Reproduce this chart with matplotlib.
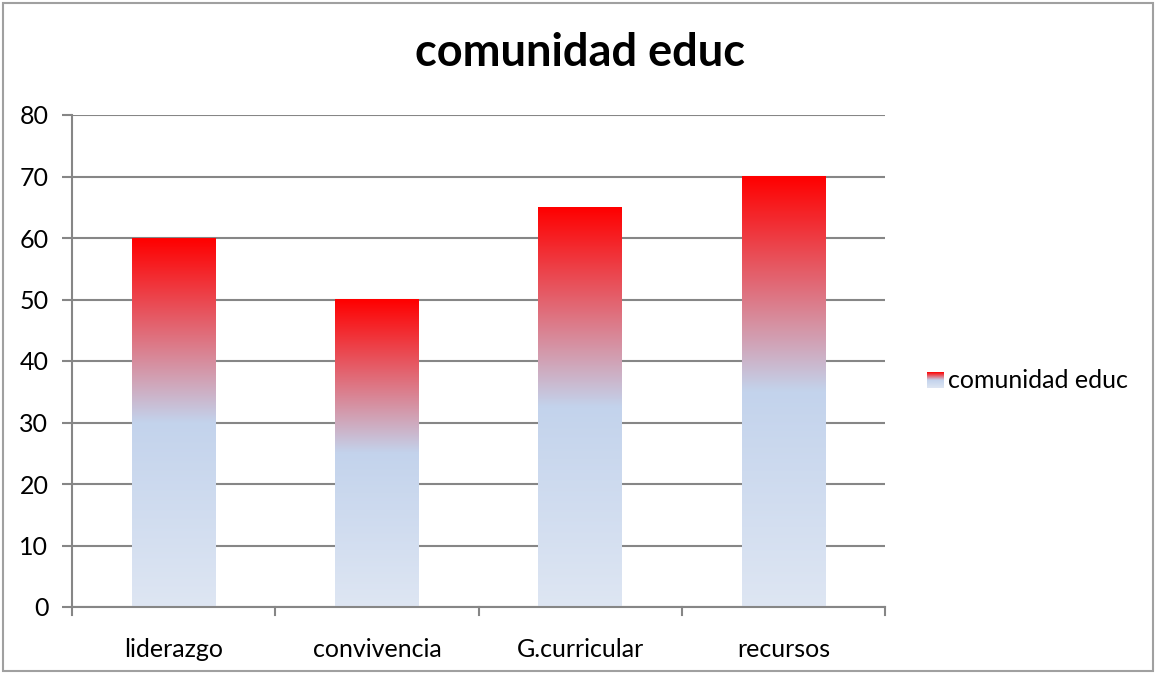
import numpy as np
import matplotlib
matplotlib.use("Agg")
import matplotlib.pyplot as plt
from matplotlib.colors import LinearSegmentedColormap
from matplotlib.patches import Rectangle

categories = ["liderazgo", "convivencia", "G.curricular", "recursos"]
values = [60, 50, 65, 70]
series_name = "comunidad educ"
title = "comunidad educ"
yticks = [0, 10, 20, 30, 40, 50, 60, 70, 80]

plt.rcParams['font.family'] = ['Lato', 'DejaVu Sans']

cmap = LinearSegmentedColormap.from_list(
    "grad",
    [(0.0, (222/255, 230/255, 243/255)),
     (0.5, (195/255, 211/255, 236/255)),
     (1.0, (1.0, 0.0, 0.0))])

W, H = 1155, 674
fig = plt.figure(figsize=(W/100, H/100), dpi=100)
ax = fig.add_axes([72/W, 1 - 607/H, (885-72)/W, (607-115)/H])

n = len(categories)
bw = 0.41
grad = np.linspace(0, 1, 256).reshape(-1, 1)
for i, v in enumerate(values):
    x0 = i + 0.5 - bw/2
    ax.imshow(grad, cmap=cmap, origin='lower', aspect='auto',
              extent=(x0, x0 + bw, 0, v), zorder=2, interpolation='bilinear')
ax.set_xlim(0, n)
ax.set_ylim(0, 80)

ax.set_yticks(yticks)
ax.set_yticklabels([str(t) for t in yticks], fontsize=18)
ax.set_xticks([i + 0.5 for i in range(n)])
ax.set_xticklabels(categories, fontsize=18)
ax.tick_params(axis='x', length=0, pad=22)
ax.tick_params(axis='y', length=7, color='#868686', width=1.5, pad=10)
for t in range(n + 1):
    ax.plot([t, t], [0, -0.017], transform=ax.get_xaxis_transform(),
            color='#868686', lw=1.5, clip_on=False)

ax.grid(axis='y', color='#868686', lw=1.5, zorder=1)
for s in ['top', 'right']:
    ax.spines[s].set_visible(False)
ax.spines['left'].set_color('#868686')
ax.spines['left'].set_linewidth(1.5)
ax.spines['bottom'].set_color('#868686')
ax.spines['bottom'].set_linewidth(1.5)
ax.spines['bottom'].set_zorder(3)

fig.text(580/W, 1 - 53/H, title, fontsize=32.5, fontweight='bold',
         ha='center', va='center')

# legend
lax = fig.add_axes([927/W, 1 - 388/H, 16/W, 16/H])
lax.imshow(grad, cmap=cmap, origin='lower', aspect='auto', extent=(0, 1, 0, 1))
lax.axis('off')
fig.text(948/W, 1 - 380/H, series_name, fontsize=18, ha='left', va='center')

# outer border
fig.patches.append(Rectangle((3/W, 3/H), 1 - 5/W, 1 - 6/H, transform=fig.transFigure,
                             fill=False, edgecolor='#a0a0a0', lw=1.5))

fig.savefig("out.png", dpi=100)
